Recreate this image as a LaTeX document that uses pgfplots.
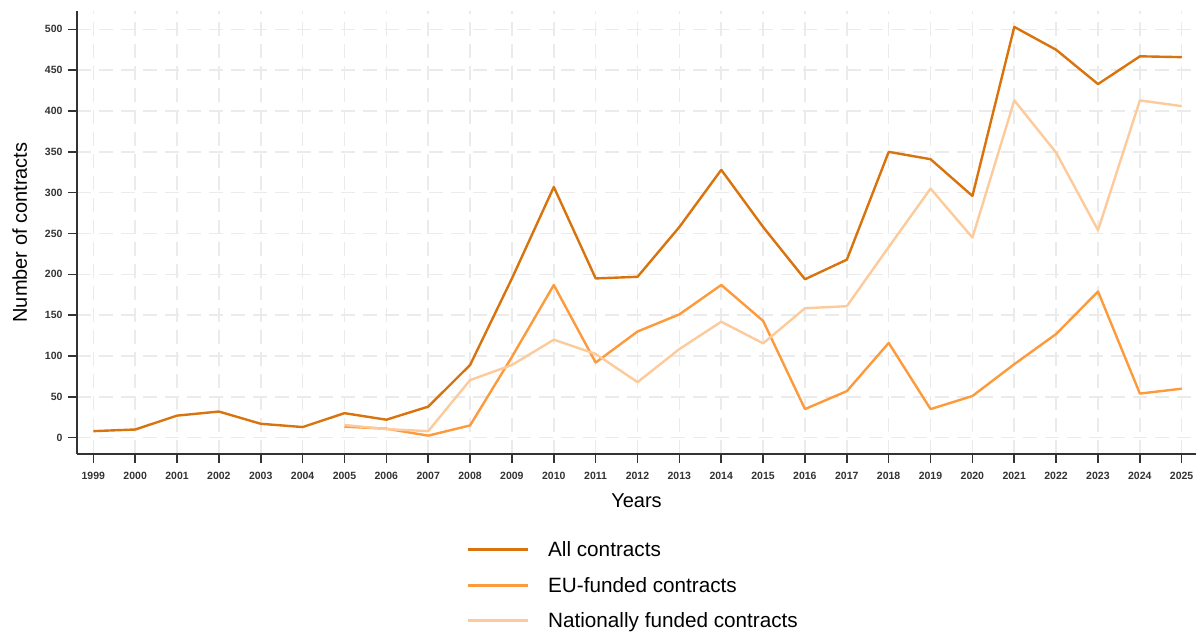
\documentclass[border=0pt]{standalone}
\usepackage{fontspec}
\setmainfont{Liberation Sans}
\usepackage{pgfplots}
\usepackage{pgfplotstable}
\pgfplotsset{compat=1.18}

\definecolor{allc}{HTML}{D9730D}
\definecolor{euc}{HTML}{FD9A3C}
\definecolor{natc}{HTML}{FDCB9B}
\definecolor{axisgray}{HTML}{333333}
\definecolor{gridgray}{HTML}{EBEBEB}

% year, value
\pgfplotstableread{
year val
1999 8
2000 10
2001 27
2002 32
2003 17
2004 13
2005 30
2006 22
2007 38
2008 89
2009 195
2010 307
2011 195
2012 197
2013 258
2014 328
2015 258
2016 194
2017 218
2018 350
2019 341
2020 296
2021 503
2022 475
2023 433
2024 467
2025 466
}\allcontracts

\pgfplotstableread{
year val
2005 13.5
2006 11
2007 2.5
2008 15
2009 99
2010 187
2011 92
2012 130
2013 151
2014 187
2015 143
2016 35
2017 57
2018 116
2019 35
2020 51
2021 90
2022 127
2023 179
2024 54
2025 60
}\eufunded

\pgfplotstableread{
year val
2005 15.5
2006 10.5
2007 8
2008 70.5
2009 89
2010 120
2011 102.5
2012 68
2013 108.5
2014 142
2015 115.5
2016 158.5
2017 161
2018 233.5
2019 305
2020 245
2021 413
2022 349
2023 254
2024 413
2025 406
}\natfunded

\begin{document}
\begin{tikzpicture}[x=1pt,y=1pt]
\useasboundingbox (-77,-181) rectangle (1119,454);
\begin{axis}[
    at={(0,0)}, anchor=south west,
    scale only axis,
    width=1119pt, height=443pt,
    xmin=1998.61, xmax=2025.34,
    ymin=-20, ymax=522.5,
    axis x line=bottom, axis y line=left,
    axis line style={-, line width=1.6pt, color=axisgray},
    xtick={1999,...,2025},
    ytick={0,50,...,500},
    tick align=outside,
    major tick length=9pt,
    tick style={line width=1.5pt, color=axisgray},
    grid=major,
    major grid style={line width=1.6pt, color=gridgray, dash pattern=on 14pt off 8pt},
    /pgf/number format/assume math mode=true,
    /pgf/number format/1000 sep={},
    tick label style={font=\fontsize{10.5}{12}\selectfont\bfseries, text=axisgray},
    xticklabel style={yshift=-6pt},
    yticklabel style={xshift=-2pt},
    xlabel={Years},
    ylabel={Number of contracts},
    label style={font=\fontsize{20}{24}\selectfont},
    xlabel style={at={(axis description cs:0.5,0)}, anchor=center, yshift=-47pt},
    ylabel style={at={(axis description cs:-0.0447,0.5)}, anchor=base},
    legend cell align=left,
    legend style={draw=none, fill=none, font=\fontsize{20.7}{24}\selectfont,
        at={(axis description cs:0.3476,-0.193)}, anchor=north west,
        row sep=15pt, inner sep=0pt,
        /tikz/every odd column/.append style={column sep=17pt}},
    legend image code/.code={\draw[#1, line width=3pt] (0pt,0pt) -- (60pt,0pt);},
    every axis plot/.append style={line width=2.4pt, line join=round},
]
\addplot[allc, no markers] table[x=year, y=val] {\allcontracts};
\addplot[euc, no markers] table[x=year, y=val] {\eufunded};
\addplot[natc, no markers] table[x=year, y=val] {\natfunded};
\legend{All contracts, EU-funded contracts, Nationally funded contracts}
\end{axis}
\end{tikzpicture}
\end{document}
